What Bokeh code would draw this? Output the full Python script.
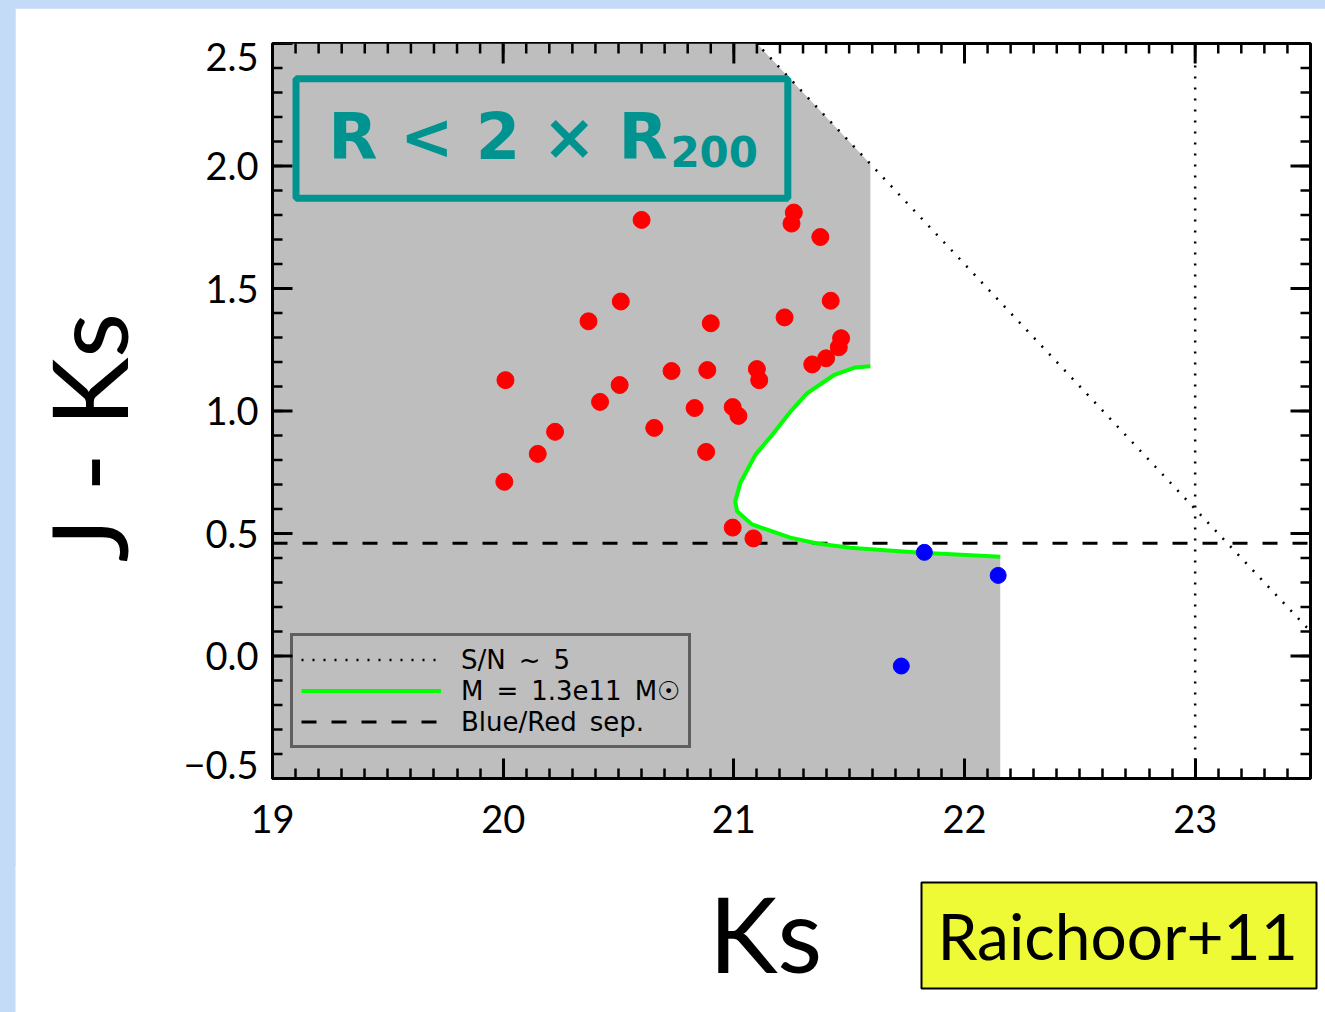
import numpy as np
from bokeh.plotting import figure
from bokeh.models import (Range1d, LinearAxis, FixedTicker, Label, BoxAnnotation,
                          Span, Legend, LegendItem)
from bokeh.layouts import column
from bokeh.embed import file_html
from bokeh.resources import INLINE

# ---------------- data ----------------
red_ks = [20.60, 21.26, 21.25, 21.375, 20.51, 21.42, 20.37, 20.90, 21.22, 21.465,
          21.455, 21.40, 21.34, 20.01, 20.73, 20.885, 21.10, 21.11, 20.505, 20.42,
          20.83, 20.995, 21.02, 20.655, 20.225, 20.15, 20.88, 20.005, 20.995, 21.085]
red_jk = [1.78, 1.81, 1.765, 1.71, 1.447, 1.45, 1.366, 1.358, 1.382, 1.297,
          1.26, 1.215, 1.19, 1.126, 1.163, 1.167, 1.171, 1.126, 1.106, 1.037,
          1.012, 1.016, 0.98, 0.931, 0.915, 0.825, 0.833, 0.711, 0.524, 0.48]
blue_ks = [21.826, 22.146, 21.726]
blue_jk = [0.423, 0.329, -0.041]

# mass-completeness curve M = 1.3e11 Msun
curve_ks = [21.592, 21.527, 21.433, 21.317, 21.245, 21.166, 21.093, 21.028, 21.006,
            21.014, 21.079, 21.245, 21.361, 21.505, 21.794, 22.155]
curve_jk = [1.183, 1.178, 1.146, 1.072, 0.997, 0.902, 0.821, 0.706, 0.631,
            0.591, 0.537, 0.483, 0.459, 0.442, 0.422, 0.405]

sn_j_limit = 23.6      # S/N ~ 5 : J = 23.6  ->  J-Ks = 23.6 - Ks
sep_jk = 0.46          # blue / red separation
ks_limit = 23.0        # Ks limit (vertical dotted)

x_ticks = [19, 20, 21, 22, 23]
y_ticks = [-0.5, 0.0, 0.5, 1.0, 1.5, 2.0, 2.5]
y_tick_labels = ["\u22120.5", "0.0", "0.5", "1.0", "1.5", "2.0", "2.5"]

x_lo, x_hi = 19.0, 23.5
y_lo, y_hi = -0.5, 2.5

TEAL = "#00938f"
GRAY = "#bebebe"

# ---------------- main figure ----------------
p = figure(width=1310, height=860, x_range=Range1d(x_lo, x_hi), y_range=Range1d(y_lo, y_hi),
           output_backend="svg", toolbar_location=None,
           x_axis_location=None, y_axis_location=None,
           min_border_left=257, min_border_right=15, min_border_top=35, min_border_bottom=90,
           background_fill_color="white", border_fill_color="white",
           outline_line_color="black", outline_line_width=3)
p.margin = (8, 0, 0, 15)
p.xgrid.visible = False
p.ygrid.visible = False

# gray selection region
top_cut_ks = sn_j_limit - y_hi
region_x = [x_lo, x_lo, top_cut_ks, curve_ks[0]] + curve_ks + [curve_ks[-1]]
region_y = [y_lo, y_hi, y_hi, sn_j_limit - curve_ks[0]] + curve_jk + [y_lo]
p.patch(region_x, region_y, fill_color=GRAY, line_color=None)

# lines
r_sep = p.line([x_lo, x_hi], [sep_jk, sep_jk], line_color="black", line_width=3, line_dash="15 15")
sn_x = np.array([x_lo, x_hi])
r_sn = p.line(sn_x, sn_j_limit - sn_x, line_color="black", line_width=2.5, line_dash="2 9")
p.add_layout(Span(location=ks_limit, dimension="height", line_color="black",
                  line_width=2.5, line_dash="2 9"))
r_m = p.line(curve_ks, curve_jk, line_color="#00ff00", line_width=4)

# points
p.scatter(red_ks, red_jk, size=17, fill_color="#ff0000", line_color="#ff0000")
p.scatter(blue_ks, blue_jk, size=16, fill_color="#0000ff", line_color="#0000ff")

# ---------------- axes ----------------
x_minor = [round(v, 2) for v in np.arange(x_lo, x_hi + 0.001, 0.1)]
y_minor = [round(v, 2) for v in np.arange(y_lo, y_hi + 0.001, 0.1)]

def style_axis(ax):
    ax.axis_line_width = 3
    ax.axis_line_color = "black"
    ax.major_tick_in = 20
    ax.major_tick_out = 0
    ax.minor_tick_in = 10
    ax.minor_tick_out = 0
    ax.major_tick_line_width = 3
    ax.minor_tick_line_width = 2.5
    ax.major_label_text_font = "Lato"
    ax.major_label_text_font_size = "38px"
    ax.major_label_text_color = "black"

ax_b = LinearAxis(ticker=FixedTicker(ticks=x_ticks, minor_ticks=x_minor))
style_axis(ax_b)
ax_b.major_label_standoff = 26
p.add_layout(ax_b, "below")

# left axis carries only the labels; the end labels sit slightly inside the frame (IDL style)
label_inset = 0.055
y_label_pos = [y_ticks[0] + label_inset] + y_ticks[1:-1] + [y_ticks[-1] - label_inset]
ax_l = LinearAxis(ticker=FixedTicker(ticks=y_label_pos, minor_ticks=[]))
style_axis(ax_l)
ax_l.major_tick_line_color = None
ax_l.minor_tick_line_color = None
ax_l.major_label_overrides = dict(zip(y_label_pos, y_tick_labels))
ax_l.major_label_standoff = 14
ax_l.axis_label = "J - Ks\u00a0\u00a0"
ax_l.axis_label_text_font = "Lato"
ax_l.axis_label_text_font_style = "normal"
ax_l.axis_label_text_font_size = "104px"
ax_l.axis_label_text_color = "black"
ax_l.axis_label_standoff = 30
p.add_layout(ax_l, "left")

# inward ticks on the top, left and right frame edges (markers half-clipped by the frame)
p.scatter(x_minor, [y_hi] * len(x_minor), marker="dash", angle=np.pi / 2, size=20,
          line_color="black", line_width=2.5)
p.scatter(x_ticks, [y_hi] * len(x_ticks), marker="dash", angle=np.pi / 2, size=40,
          line_color="black", line_width=3)
for edge in (x_lo, x_hi):
    p.scatter([edge] * len(y_minor), y_minor, marker="dash", size=20,
              line_color="black", line_width=2.5)
    p.scatter([edge] * len(y_ticks), y_ticks, marker="dash", size=40,
              line_color="black", line_width=3)

# ---------------- legend ----------------
SP = "\u2002"
legend = Legend(items=[LegendItem(label="S/N" + SP + "~" + SP + "5", renderers=[r_sn]),
                       LegendItem(label="M" + SP + "=" + SP + "1.3e11" + SP + "M\u2609", renderers=[r_m]),
                       LegendItem(label="Blue/Red" + SP + "sep.", renderers=[r_sep])],
                location=(18, 30), orientation="vertical",
                glyph_width=140, glyph_height=31, label_height=31, label_standoff=20,
                label_text_font="DejaVu Sans", label_text_font_size="26px",
                label_text_color="black", padding=8, spacing=0, margin=0,
                border_line_color="black", border_line_width=3,
                background_fill_alpha=0)
p.add_layout(legend, "center")

# ---------------- R < 2 x R200 box ----------------
p.add_layout(BoxAnnotation(left=19.102, right=21.234, top=2.356, bottom=1.868,
                           fill_color=None, fill_alpha=0, line_color=TEAL,
                           line_alpha=1, line_width=7))
p.add_layout(Label(x=19.242, y=2.118, text="R < 2 \u00d7 R",
                   text_font="DejaVu Sans", text_font_style="bold", text_font_size="64px",
                   text_color=TEAL, text_baseline="middle", text_align="left"))
p.add_layout(Label(x=20.725, y=2.061, text="200", text_font="DejaVu Sans",
                   text_font_style="bold", text_font_size="42px", text_color=TEAL,
                   text_baseline="middle", text_align="left"))

# ---------------- bottom band (page coordinates) ----------------
p2 = figure(width=1310, height=146, x_range=Range1d(15, 1325), y_range=Range1d(1012, 866),
            output_backend="svg", toolbar_location=None,
            x_axis_location=None, y_axis_location=None,
            min_border_left=0, min_border_right=0, min_border_top=0, min_border_bottom=0,
            background_fill_color="white", border_fill_color="white", outline_line_color=None)
p2.frame_align = False
p2.margin = (-2, 0, 0, 15)
p2.xgrid.visible = False
p2.ygrid.visible = False
p2.add_layout(Label(x=765, y=932, text="Ks", text_font="Lato", text_font_size="104px",
                    text_color="black", text_align="center", text_baseline="middle"))
p2.add_layout(BoxAnnotation(left=921, right=1316, top=882, bottom=988,
                            fill_color="#eefa36", fill_alpha=1, line_color="black",
                            line_alpha=1, line_width=2))
p2.add_layout(Label(x=937, y=935, text="Raichoor+11", text_font="Lato", text_font_size="64px",
                    text_color="black", text_align="left", text_baseline="middle"))

root = column(p, p2, spacing=0, styles={"background-color": "#c4dbf8"})
open("out.html", "w").write(file_html(root, INLINE))
